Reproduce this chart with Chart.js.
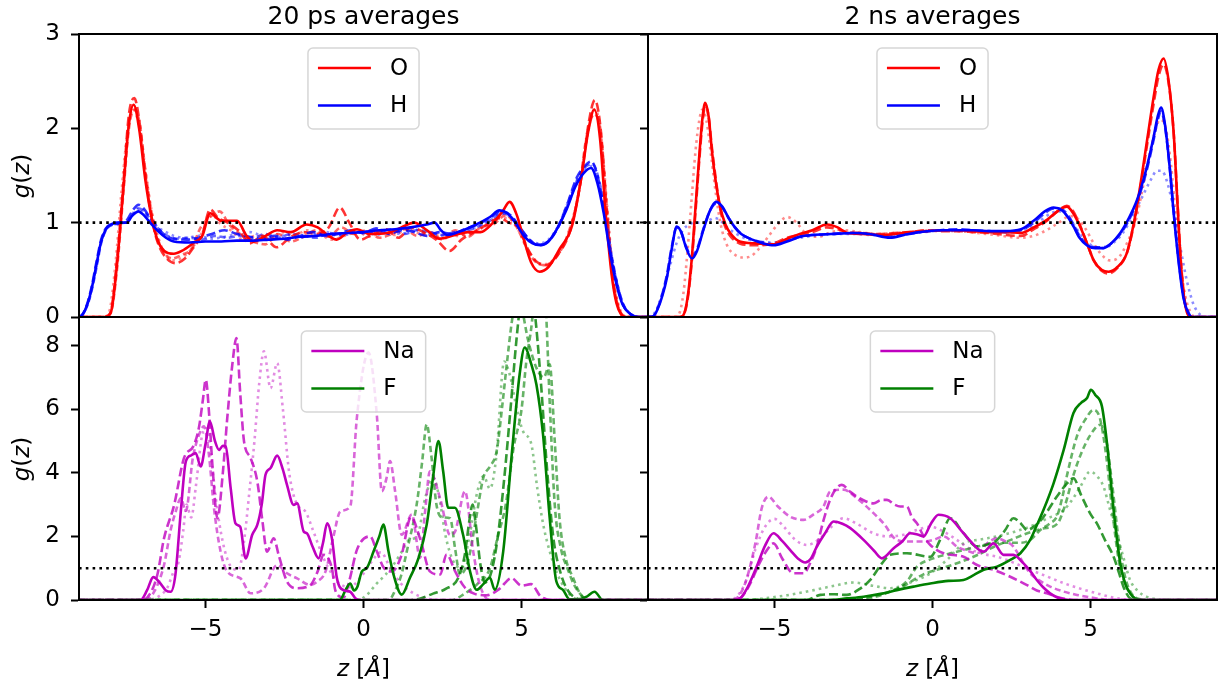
<!DOCTYPE html>
<html>
<head>
<meta charset="utf-8">
<script src="https://cdn.jsdelivr.net/npm/chart.js@4.4.0/dist/chart.umd.min.js"></script>
<style>
  body { margin: 0; background: #fff; }
  #fig { position: relative; width: 1225px; height: 684px; overflow: hidden; background: #fff; }
  #fig canvas { position: absolute; left: 0; top: 0; }
  .txt { position: absolute; font-family: "DejaVu Sans", sans-serif; color: #000; white-space: nowrap; }
  .title { font-size: 25px; line-height: 25px; top: 3px; transform: translateX(-50%); }
  .xlab { font-size: 23px; line-height: 23px; top: 657px; transform: translateX(-50%); }
  .ylab { font-size: 23px; line-height: 23px; transform: translate(-50%, -50%) rotate(-90deg); }
</style>
</head>
<body>
<div id="fig">
  <canvas id="tl" width="1225" height="684"></canvas>
  <canvas id="tr" width="1225" height="684"></canvas>
  <canvas id="bl" width="1225" height="684"></canvas>
  <canvas id="br" width="1225" height="684"></canvas>
  <div class="txt title" style="left:363.5px">20 ps averages</div>
  <div class="txt title" style="left:932.5px">2 ns averages</div>
  <div class="txt ylab" style="left:21px;top:176px"><i>g</i>(<i>z</i>)</div>
  <div class="txt ylab" style="left:21px;top:459px"><i>g</i>(<i>z</i>)</div>
  <div class="txt xlab" style="left:363.5px"><i>z</i> [<i>Å</i>]</div>
  <div class="txt xlab" style="left:932.5px"><i>z</i> [<i>Å</i>]</div>
</div>
<script>
// --- DATA --- //
const xTicks = [-5, 0, 5];
const yTicksTop = [0, 1, 2, 3];
const yTicksBottom = [0, 2, 4, 6, 8];
const refZ = [-9, 9];
const refG = [1, 1];

// 20 ps, water O  ([z, g(z)] pairs)
const oShort1 = [[-9,0],[-8.2,0],[-8.0,0.04],[-7.8,0.55],[-7.6,1.35],[-7.42,2.05],[-7.27,2.25],[-7.1,2.0],[-6.9,1.45],[-6.7,1.05],[-6.5,0.8],[-6.3,0.7],[-6.0,0.67],[-5.75,0.7],[-5.4,0.78],[-5.1,0.86],[-4.85,1.1],[-4.5,1.02],[-4.0,1.02],[-3.7,0.86],[-3.47,0.8],[-3.1,0.86],[-2.73,0.92],[-2.3,0.9],[-1.8,0.98],[-1.45,0.95],[-1.1,0.86],[-0.85,0.82],[-0.5,0.9],[-0.2,0.93],[0.2,0.88],[0.75,0.89],[1.2,0.95],[1.6,1.0],[2.0,0.92],[2.4,0.83],[2.9,0.87],[3.3,0.9],[3.7,0.9],[4.1,1.0],[4.4,1.12],[4.62,1.22],[4.85,1.08],[5.05,0.85],[5.3,0.58],[5.57,0.48],[5.85,0.53],[6.2,0.72],[6.6,0.97],[6.9,1.5],[7.1,1.95],[7.3,2.2],[7.48,1.9],[7.66,1.1],[7.85,0.45],[8.0,0.15],[8.15,0.03],[8.3,0],[9,0]];
const oShort2 = [[-9,0],[-8.2,0],[-8.0,0.05],[-7.8,0.6],[-7.6,1.4],[-7.42,2.15],[-7.25,2.32],[-7.08,2.05],[-6.9,1.5],[-6.7,1.05],[-6.5,0.78],[-6.25,0.63],[-5.95,0.57],[-5.65,0.62],[-5.35,0.75],[-5.1,0.88],[-4.85,1.14],[-4.6,1.05],[-4.3,1.0],[-3.9,0.9],[-3.6,0.78],[-3.2,0.86],[-2.75,0.74],[-2.3,0.85],[-1.9,0.9],[-1.5,0.88],[-1.1,0.95],[-0.75,1.16],[-0.45,1.0],[-0.1,0.82],[0.3,0.88],[0.7,0.93],[1.1,0.84],[1.5,0.95],[1.9,0.9],[2.3,0.82],[2.72,0.7],[3.1,0.82],[3.5,0.9],[3.9,0.98],[4.3,1.05],[4.6,1.0],[4.9,0.95],[5.2,0.72],[5.5,0.58],[5.8,0.55],[6.15,0.66],[6.55,0.93],[6.9,1.5],[7.12,2.05],[7.32,2.3],[7.5,2.0],[7.68,1.2],[7.85,0.5],[8.0,0.18],[8.15,0.03],[8.3,0],[9,0]];
const oShort3 = [[-9,0],[-8.2,0],[-8.0,0.04],[-7.8,0.5],[-7.6,1.3],[-7.42,2.0],[-7.25,2.2],[-7.08,2.05],[-6.9,1.55],[-6.7,1.1],[-6.5,0.82],[-6.3,0.68],[-6.05,0.62],[-5.75,0.66],[-5.45,0.72],[-5.15,0.95],[-4.85,1.06],[-4.55,1.12],[-4.25,0.98],[-3.9,0.88],[-3.5,0.8],[-3.1,0.77],[-2.7,0.88],[-2.3,0.8],[-1.9,0.85],[-1.5,0.92],[-1.1,0.85],[-0.7,0.95],[-0.3,0.88],[0.1,0.92],[0.5,0.84],[0.9,0.88],[1.3,0.93],[1.7,0.86],[2.1,0.9],[2.5,0.82],[2.9,0.92],[3.3,0.85],[3.7,0.95],[4.1,0.98],[4.5,1.08],[4.8,0.98],[5.1,0.78],[5.4,0.6],[5.7,0.55],[6.0,0.6],[6.4,0.82],[6.8,1.3],[7.05,1.9],[7.3,2.15],[7.5,1.95],[7.7,1.15],[7.9,0.4],[8.05,0.12],[8.2,0.02],[8.35,0],[9,0]];
const oShort4 = [[-9,0],[-8.25,0],[-8.05,0.05],[-7.85,0.55],[-7.65,1.35],[-7.45,2.0],[-7.28,2.2],[-7.1,2.02],[-6.9,1.55],[-6.7,1.12],[-6.5,0.85],[-6.25,0.65],[-6.0,0.6],[-5.7,0.64],[-5.4,0.74],[-5.1,0.9],[-4.8,1.08],[-4.5,0.98],[-4.2,0.92],[-3.8,0.82],[-3.4,0.86],[-3.0,0.82],[-2.6,0.9],[-2.2,0.86],[-1.8,0.92],[-1.4,0.88],[-1.0,0.82],[-0.6,0.86],[-0.2,0.9],[0.2,0.85],[0.6,0.9],[1.0,0.87],[1.4,0.94],[1.8,0.88],[2.2,0.86],[2.6,0.88],[3.0,0.86],[3.4,0.9],[3.8,0.95],[4.2,1.04],[4.55,1.05],[4.9,0.92],[5.2,0.7],[5.5,0.58],[5.8,0.56],[6.1,0.65],[6.5,0.9],[6.85,1.4],[7.1,1.95],[7.32,2.2],[7.5,1.98],[7.7,1.2],[7.9,0.45],[8.05,0.15],[8.2,0.03],[8.35,0],[9,0]];

// 20 ps, water H
const hShort1 = [[-9,0],[-8.9,0.02],[-8.75,0.12],[-8.6,0.3],[-8.45,0.55],[-8.3,0.8],[-8.15,0.93],[-8.0,0.98],[-7.75,1.0],[-7.5,1.0],[-7.3,1.08],[-7.12,1.12],[-6.95,1.08],[-6.75,1.0],[-6.5,0.91],[-6.25,0.84],[-6.0,0.8],[-5.5,0.79],[-5.0,0.8],[-4.5,0.8],[-4.0,0.81],[-3.5,0.81],[-3.0,0.82],[-2.5,0.83],[-2.0,0.85],[-1.5,0.86],[-1.0,0.88],[-0.5,0.89],[0,0.9],[0.5,0.92],[1.0,0.93],[1.5,0.95],[2.0,0.98],[2.25,1.0],[2.45,0.92],[2.65,0.87],[3.0,0.9],[3.5,0.97],[4.0,1.06],[4.3,1.13],[4.55,1.1],[4.8,1.0],[5.1,0.85],[5.35,0.78],[5.6,0.76],[5.85,0.8],[6.1,0.92],[6.4,1.12],[6.7,1.38],[6.95,1.52],[7.2,1.58],[7.4,1.42],[7.6,1.1],[7.8,0.68],[8.0,0.35],[8.2,0.13],[8.45,0.03],[8.7,0],[9,0]];
const hShort2 = [[-9,0],[-8.9,0.02],[-8.75,0.13],[-8.6,0.32],[-8.45,0.58],[-8.3,0.82],[-8.15,0.94],[-8.0,0.98],[-7.75,0.99],[-7.5,1.02],[-7.3,1.13],[-7.12,1.19],[-6.95,1.15],[-6.75,1.05],[-6.5,0.94],[-6.25,0.86],[-6.0,0.83],[-5.6,0.82],[-5.2,0.84],[-4.8,0.88],[-4.4,0.92],[-4.0,0.88],[-3.6,0.85],[-3.2,0.83],[-2.8,0.86],[-2.4,0.82],[-2.0,0.86],[-1.6,0.9],[-1.2,0.86],[-0.8,0.88],[-0.4,0.92],[0,0.89],[0.4,0.94],[0.8,0.88],[1.2,0.92],[1.6,0.9],[2.0,0.86],[2.4,0.9],[2.8,0.88],[3.2,0.93],[3.6,0.98],[4.0,1.05],[4.35,1.12],[4.65,1.08],[4.95,0.95],[5.25,0.82],[5.55,0.76],[5.85,0.8],[6.15,0.95],[6.45,1.2],[6.75,1.48],[7.0,1.6],[7.2,1.65],[7.4,1.5],[7.6,1.15],[7.8,0.72],[8.0,0.38],[8.2,0.14],[8.45,0.03],[8.7,0],[9,0]];
const hShort3 = [[-9,0],[-8.9,0.02],[-8.75,0.11],[-8.6,0.28],[-8.45,0.52],[-8.3,0.78],[-8.15,0.92],[-8.0,0.97],[-7.75,1.0],[-7.5,1.0],[-7.3,1.08],[-7.1,1.15],[-6.9,1.1],[-6.7,1.02],[-6.45,0.92],[-6.2,0.86],[-5.9,0.83],[-5.5,0.84],[-5.1,0.82],[-4.7,0.86],[-4.3,0.84],[-3.9,0.86],[-3.5,0.84],[-3.1,0.88],[-2.7,0.84],[-2.3,0.88],[-1.9,0.86],[-1.5,0.84],[-1.1,0.89],[-0.7,0.87],[-0.3,0.91],[0.1,0.88],[0.5,0.9],[0.9,0.93],[1.3,0.88],[1.7,0.92],[2.1,0.9],[2.5,0.87],[2.9,0.9],[3.3,0.92],[3.7,0.97],[4.1,1.04],[4.4,1.1],[4.7,1.05],[5.0,0.92],[5.3,0.8],[5.6,0.77],[5.9,0.82],[6.2,0.98],[6.5,1.22],[6.8,1.48],[7.05,1.6],[7.25,1.62],[7.45,1.45],[7.65,1.1],[7.85,0.65],[8.05,0.32],[8.25,0.11],[8.5,0.02],[8.75,0],[9,0]];
const hShort4 = [[-9,0],[-8.9,0.02],[-8.75,0.12],[-8.6,0.3],[-8.45,0.55],[-8.3,0.8],[-8.15,0.93],[-8.0,0.97],[-7.75,0.99],[-7.5,1.01],[-7.3,1.1],[-7.12,1.16],[-6.95,1.12],[-6.75,1.04],[-6.5,0.95],[-6.25,0.9],[-6.0,0.86],[-5.6,0.84],[-5.2,0.86],[-4.8,0.83],[-4.4,0.85],[-4.0,0.88],[-3.6,0.9],[-3.2,0.86],[-2.8,0.84],[-2.4,0.87],[-2.0,0.84],[-1.6,0.87],[-1.2,0.9],[-0.8,0.86],[-0.4,0.88],[0,0.91],[0.4,0.87],[0.8,0.9],[1.2,0.88],[1.6,0.93],[2.0,0.88],[2.4,0.86],[2.8,0.89],[3.2,0.9],[3.6,0.96],[4.0,1.02],[4.35,1.1],[4.65,1.06],[4.95,0.94],[5.25,0.82],[5.55,0.78],[5.85,0.82],[6.15,0.96],[6.45,1.2],[6.75,1.45],[7.0,1.56],[7.22,1.6],[7.42,1.46],[7.62,1.12],[7.82,0.7],[8.02,0.36],[8.22,0.13],[8.47,0.03],[8.72,0],[9,0]];

// 2 ns, water O
const oLong1 = [[-9,0],[-8.0,0],[-7.88,0.02],[-7.75,0.2],[-7.62,0.6],[-7.5,1.15],[-7.38,1.7],[-7.28,2.1],[-7.19,2.27],[-7.08,2.12],[-6.98,1.77],[-6.85,1.42],[-6.72,1.17],[-6.55,0.98],[-6.4,0.89],[-6.1,0.8],[-5.6,0.78],[-5.03,0.77],[-4.6,0.83],[-4.2,0.88],[-3.8,0.92],[-3.34,0.98],[-3.0,0.95],[-2.7,0.89],[-2.2,0.88],[-1.7,0.87],[-1.2,0.88],[-0.7,0.9],[-0.2,0.91],[0.3,0.92],[0.8,0.92],[1.3,0.91],[1.8,0.9],[2.3,0.9],[2.8,0.89],[3.2,0.95],[3.62,1.03],[3.95,1.12],[4.25,1.17],[4.45,1.1],[4.67,0.96],[4.9,0.77],[5.1,0.6],[5.35,0.5],[5.57,0.48],[5.85,0.53],[6.15,0.68],[6.4,1.05],[6.6,1.45],[6.8,1.9],[6.99,2.32],[7.15,2.62],[7.31,2.74],[7.47,2.5],[7.63,1.95],[7.75,1.2],[7.86,0.55],[7.96,0.2],[8.06,0.04],[8.2,0],[9,0]];
const oLong2 = [[-9,0],[-8.0,0],[-7.88,0.02],[-7.75,0.18],[-7.62,0.57],[-7.5,1.1],[-7.38,1.65],[-7.28,2.05],[-7.19,2.24],[-7.08,2.12],[-6.98,1.8],[-6.85,1.45],[-6.72,1.15],[-6.55,0.95],[-6.4,0.86],[-6.1,0.78],[-5.6,0.76],[-5.03,0.78],[-4.6,0.84],[-4.2,0.87],[-3.8,0.9],[-3.34,0.95],[-3.0,0.93],[-2.7,0.9],[-2.2,0.89],[-1.7,0.88],[-1.2,0.89],[-0.7,0.9],[-0.2,0.92],[0.3,0.91],[0.8,0.91],[1.3,0.9],[1.8,0.89],[2.3,0.87],[2.8,0.86],[3.2,0.93],[3.62,1.02],[3.95,1.12],[4.25,1.18],[4.45,1.12],[4.67,0.97],[4.9,0.77],[5.1,0.6],[5.35,0.49],[5.57,0.46],[5.85,0.52],[6.15,0.68],[6.4,1.03],[6.6,1.42],[6.8,1.85],[6.99,2.25],[7.15,2.55],[7.31,2.68],[7.47,2.48],[7.63,1.95],[7.75,1.22],[7.86,0.58],[7.96,0.22],[8.06,0.05],[8.2,0],[9,0]];
const oLong3 = [[-9,0],[-8.15,0],[-8.02,0.03],[-7.88,0.25],[-7.75,0.7],[-7.62,1.25],[-7.5,1.75],[-7.38,2.08],[-7.28,2.2],[-7.15,2.08],[-7.0,1.7],[-6.85,1.3],[-6.7,0.98],[-6.5,0.76],[-6.25,0.66],[-6.0,0.63],[-5.77,0.64],[-5.5,0.72],[-5.2,0.85],[-4.9,0.98],[-4.6,1.06],[-4.3,1.0],[-4.0,0.88],[-3.6,0.85],[-3.2,0.9],[-2.8,0.92],[-2.3,0.9],[-1.8,0.88],[-1.3,0.89],[-0.8,0.9],[-0.3,0.91],[0.2,0.92],[0.7,0.91],[1.2,0.9],[1.7,0.88],[2.2,0.86],[2.7,0.84],[3.2,0.86],[3.6,0.92],[4.0,1.0],[4.35,1.07],[4.6,1.04],[4.85,0.93],[5.1,0.78],[5.35,0.66],[5.6,0.6],[5.85,0.62],[6.15,0.78],[6.45,1.05],[6.7,1.45],[6.95,1.85],[7.2,2.09],[7.38,2.0],[7.55,1.6],[7.7,1.05],[7.85,0.55],[8.0,0.22],[8.15,0.06],[8.3,0],[9,0]];

// 2 ns, water H
const hLong1 = [[-9,0],[-8.83,0.01],[-8.7,0.08],[-8.55,0.22],[-8.4,0.42],[-8.25,0.72],[-8.09,0.96],[-7.95,0.9],[-7.8,0.74],[-7.61,0.62],[-7.45,0.7],[-7.25,0.92],[-7.05,1.12],[-6.85,1.22],[-6.65,1.17],[-6.45,1.05],[-6.25,0.95],[-6.05,0.88],[-5.7,0.82],[-5.35,0.78],[-5.03,0.76],[-4.6,0.8],[-4.2,0.85],[-3.8,0.87],[-3.2,0.88],[-2.5,0.89],[-2.0,0.88],[-1.34,0.84],[-0.9,0.87],[-0.4,0.9],[0.24,0.92],[0.8,0.92],[1.3,0.92],[1.8,0.91],[2.3,0.91],[2.8,0.93],[3.2,1.02],[3.55,1.12],[3.83,1.16],[4.1,1.13],[4.3,1.05],[4.46,0.96],[4.65,0.84],[4.89,0.76],[5.15,0.73],[5.41,0.73],[5.65,0.78],[5.94,0.89],[6.2,1.04],[6.47,1.24],[6.75,1.55],[6.99,1.9],[7.12,2.12],[7.23,2.22],[7.35,2.05],[7.5,1.6],[7.63,1.1],[7.78,0.6],[7.94,0.2],[8.08,0.05],[8.2,0],[9,0]];
const hLong2 = [[-9,0],[-8.83,0.01],[-8.7,0.09],[-8.55,0.24],[-8.4,0.45],[-8.25,0.74],[-8.09,0.95],[-7.95,0.9],[-7.8,0.75],[-7.61,0.64],[-7.45,0.72],[-7.25,0.93],[-7.05,1.12],[-6.85,1.2],[-6.65,1.16],[-6.45,1.05],[-6.25,0.95],[-6.05,0.88],[-5.7,0.82],[-5.35,0.79],[-5.03,0.77],[-4.6,0.81],[-4.2,0.85],[-3.8,0.87],[-3.2,0.88],[-2.5,0.89],[-2.0,0.88],[-1.34,0.86],[-0.9,0.88],[-0.4,0.9],[0.24,0.92],[0.8,0.93],[1.3,0.92],[1.8,0.91],[2.3,0.9],[2.8,0.92],[3.2,1.0],[3.55,1.1],[3.83,1.15],[4.1,1.14],[4.3,1.07],[4.46,0.98],[4.65,0.86],[4.89,0.77],[5.15,0.74],[5.41,0.74],[5.65,0.78],[5.94,0.88],[6.2,1.02],[6.47,1.22],[6.75,1.52],[6.99,1.87],[7.12,2.08],[7.23,2.18],[7.35,2.03],[7.5,1.6],[7.63,1.12],[7.78,0.62],[7.94,0.22],[8.08,0.06],[8.2,0],[9,0]];
const hLong3 = [[-9,0],[-8.85,0.02],[-8.7,0.1],[-8.5,0.3],[-8.3,0.55],[-8.1,0.78],[-7.9,0.92],[-7.7,0.98],[-7.5,1.0],[-7.3,1.0],[-7.1,1.02],[-6.9,1.05],[-6.7,1.02],[-6.5,0.95],[-6.2,0.88],[-5.9,0.83],[-5.5,0.8],[-5.0,0.79],[-4.5,0.82],[-4.0,0.85],[-3.5,0.87],[-3.0,0.88],[-2.5,0.88],[-2.0,0.87],[-1.5,0.86],[-1.0,0.87],[-0.5,0.89],[0,0.91],[0.5,0.92],[1.0,0.92],[1.5,0.91],[2.0,0.9],[2.5,0.9],[3.0,0.94],[3.4,1.02],[3.75,1.1],[4.05,1.12],[4.3,1.06],[4.55,0.94],[4.8,0.82],[5.1,0.75],[5.4,0.73],[5.7,0.78],[6.0,0.88],[6.3,1.05],[6.6,1.25],[6.9,1.45],[7.1,1.55],[7.25,1.55],[7.45,1.4],[7.65,1.1],[7.85,0.72],[8.05,0.38],[8.25,0.14],[8.45,0.03],[8.6,0],[9,0]];

// 20 ps, Na+
const naShort1 = [[-9,0],[-7.05,0],[-6.85,0.3],[-6.65,0.72],[-6.45,0.55],[-6.25,0.3],[-6.1,0.26],[-5.95,0.8],[-5.78,2.78],[-5.62,4.36],[-5.45,4.55],[-5.31,4.62],[-5.15,4.2],[-5.0,4.9],[-4.86,5.62],[-4.7,5.0],[-4.57,4.72],[-4.45,4.85],[-4.36,4.83],[-4.2,3.5],[-4.05,2.41],[-3.9,2.3],[-3.73,1.31],[-3.52,2.05],[-3.36,2.36],[-3.22,3.0],[-3.1,3.94],[-2.94,4.15],[-2.73,4.54],[-2.55,4.1],[-2.42,3.62],[-2.21,2.99],[-2.1,3.04],[-1.89,2.15],[-1.79,2.1],[-1.62,1.7],[-1.42,1.31],[-1.28,1.8],[-1.15,2.41],[-1.0,1.94],[-0.84,0.68],[-0.63,0.31],[-0.42,0.26],[-0.25,0.05],[-0.1,0],[9,0]];
const naShort2 = [[-9,0],[-7.0,0],[-6.75,0.2],[-6.52,0.8],[-6.31,1.94],[-5.99,2.99],[-5.68,4.46],[-5.36,4.88],[-5.2,5.46],[-5.08,6.3],[-4.99,6.93],[-4.88,5.8],[-4.78,4.25],[-4.62,2.57],[-4.45,4.0],[-4.31,5.72],[-4.15,7.4],[-4.02,8.24],[-3.9,6.5],[-3.78,4.99],[-3.57,4.46],[-3.36,3.73],[-3.2,2.5],[-3.05,1.52],[-2.84,1.94],[-2.68,1.4],[-2.42,0.58],[-2.1,0.37],[-1.68,0.47],[-1.45,0.9],[-1.26,1.42],[-1.0,1.0],[-0.89,0.3],[-0.63,0.08],[-0.45,0.6],[-0.2,1.6],[0.21,2.0],[0.42,1.53],[0.65,1.0],[0.9,0.9],[1.2,1.4],[1.5,2.6],[1.8,1.9],[2.1,0.9],[2.42,0.8],[2.63,1.43],[2.9,0.9],[3.2,0.4],[3.5,0.2],[3.9,0.15],[4.3,0.35],[4.68,0.69],[5.0,0.45],[5.3,0.5],[5.6,0.12],[5.9,0],[9,0]];
const naShort3 = [[-9,0],[-6.9,0],[-6.6,0.3],[-6.31,1.1],[-6.1,2.2],[-5.94,2.78],[-5.78,3.2],[-5.62,2.8],[-5.4,4.46],[-5.2,5.2],[-5.05,5.46],[-4.89,4.57],[-4.73,2.89],[-4.52,1.52],[-4.31,0.89],[-3.89,0.68],[-3.57,0.21],[-3.15,0.37],[-2.73,1.1],[-2.42,0.84],[-2.1,0.68],[-1.68,0.47],[-1.47,0.58],[-1.2,0.9],[-0.95,2.0],[-0.73,2.79],[-0.42,2.94],[-0.21,5.73],[0.16,7.78],[0.42,5.84],[0.58,3.42],[0.73,3.84],[0.84,4.37],[1.0,3.42],[1.21,2.05],[1.53,2.69],[1.79,1.32],[1.95,2.8],[2.1,4.05],[2.42,3.21],[2.74,2.05],[2.9,2.16],[3.21,3.42],[3.47,1.53],[3.68,0.48],[4.0,0],[9,0]];
const naShort4 = [[-9,0],[-6.9,0],[-6.5,0.1],[-6.2,0.4],[-5.99,0.94],[-5.85,1.2],[-5.7,2.2],[-5.6,3.0],[-5.45,2.6],[-5.3,3.6],[-5.1,5.2],[-4.95,5.4],[-4.8,4.3],[-4.62,2.8],[-4.4,1.6],[-4.15,1.0],[-3.95,0.95],[-3.78,1.84],[-3.6,3.5],[-3.45,5.0],[-3.3,6.8],[-3.15,7.82],[-2.94,6.66],[-2.73,7.45],[-2.55,6.0],[-2.35,4.0],[-2.1,3.0],[-1.85,2.8],[-1.6,2.2],[-1.3,1.4],[-1.05,0.9],[-0.8,0.55],[-0.45,0.4],[-0.1,0.7],[0.25,1.2],[0.55,1.5],[0.85,1.0],[1.2,0.5],[1.6,0.2],[2.0,0.05],[2.4,0],[9,0]];

// 20 ps, F-
const fShort1 = [[-9,0],[-0.75,0],[-0.55,0.35],[-0.42,0.52],[-0.3,0.3],[-0.2,0.4],[-0.05,0.9],[0.1,1.0],[0.32,1.53],[0.5,2.0],[0.63,2.37],[0.79,1.53],[0.95,0.8],[1.21,0.17],[1.47,0.7],[1.74,1.32],[2.0,2.37],[2.21,3.94],[2.37,5.0],[2.52,4.05],[2.68,2.9],[2.89,2.9],[3.15,2.05],[3.37,0.9],[3.58,0.32],[3.79,0.5],[4.0,0.7],[4.15,0.32],[4.42,1.53],[4.68,4.47],[4.94,7.1],[5.1,7.94],[5.31,7.41],[5.47,6.78],[5.68,5.2],[5.89,2.58],[6.1,0.59],[6.31,0.32],[6.52,0.02],[6.8,0.02],[7.05,0.1],[7.31,0.26],[7.57,0],[9,0]];
const fShort2 = [[-9,0],[1.5,0],[1.8,0.05],[2.2,0.2],[2.6,0.35],[3.0,0.7],[3.2,1.4],[3.35,2.5],[3.45,3.0],[3.55,2.4],[3.7,1.1],[3.85,0.55],[4.05,0.9],[4.25,2.0],[4.45,3.8],[4.65,6.0],[4.85,8.3],[5.0,9.6],[5.2,10.2],[5.4,9.2],[5.6,7.0],[5.8,4.2],[6.0,2.0],[6.25,0.8],[6.5,0.25],[6.8,0.03],[7.0,0],[9,0]];
const fShort3 = [[-9,0],[0.8,0],[1.0,0.3],[1.2,0.8],[1.37,1.53],[1.68,2.99],[1.85,4.3],[2.0,5.52],[2.15,4.5],[2.31,2.99],[2.5,2.6],[2.74,2.57],[2.9,1.6],[3.05,0.8],[3.3,1.2],[3.55,2.5],[3.79,3.84],[4.0,4.2],[4.21,4.67],[4.4,6.2],[4.52,7.3],[4.7,8.8],[4.84,9.5],[5.0,9.2],[5.2,8.2],[5.47,7.3],[5.7,7.0],[5.89,7.41],[6.05,5.0],[6.2,2.58],[6.4,1.3],[6.63,0.7],[6.85,0.2],[7.1,0],[9,0]];
const fShort4 = [[-9,0],[2.8,0],[3.2,0.2],[3.6,0.5],[4.0,1.0],[4.25,2.0],[4.5,3.0],[4.75,4.8],[5.0,6.0],[5.15,7.5],[5.3,8.5],[5.45,9.8],[5.6,10.2],[5.75,9.5],[5.9,6.0],[6.05,3.0],[6.25,1.6],[6.45,1.0],[6.65,0.5],[6.85,0.2],[7.1,0],[9,0]];
const fShort5 = [[-9,0],[-0.2,0],[0.1,0.15],[0.4,0.5],[0.7,0.8],[0.95,1.11],[1.2,1.5],[1.45,1.9],[1.7,2.0],[1.95,3.2],[2.21,3.84],[2.4,3.2],[2.6,2.0],[2.85,1.2],[3.1,1.0],[3.35,2.0],[3.6,3.4],[3.8,3.9],[4.0,3.5],[4.2,4.5],[4.45,7.5],[4.65,7.0],[4.85,6.0],[5.05,5.3],[5.31,4.9],[5.5,3.5],[5.7,2.3],[5.9,1.5],[6.1,0.9],[6.35,0.4],[6.6,0.1],[6.9,0],[9,0]];

// 2 ns, Na+
const naLong1 = [[-9,0],[-6.3,0],[-6.09,0.05],[-5.85,0.4],[-5.56,1.05],[-5.3,1.7],[-5.03,2.1],[-4.75,1.85],[-4.5,1.57],[-4.25,1.3],[-4.03,1.18],[-3.85,1.3],[-3.66,1.68],[-3.4,2.1],[-3.13,2.47],[-2.85,2.4],[-2.6,2.26],[-2.18,1.89],[-1.85,1.55],[-1.6,1.31],[-1.23,1.63],[-0.95,1.85],[-0.71,2.1],[-0.45,2.05],[-0.28,2.0],[-0.05,2.4],[0.19,2.68],[0.56,2.57],[0.98,2.1],[1.2,1.85],[1.41,1.63],[1.62,1.52],[1.93,1.78],[2.25,1.42],[2.56,1.42],[2.88,1.15],[3.1,0.9],[3.3,0.63],[3.5,0.4],[3.72,0.21],[3.95,0.08],[4.15,0.02],[4.4,0],[9,0]];
const naLong2 = [[-9,0],[-6.3,0],[-6.05,0.08],[-5.8,0.45],[-5.5,1.1],[-5.25,1.55],[-5.03,1.78],[-4.75,1.3],[-4.4,0.84],[-4.08,0.84],[-3.85,1.2],[-3.66,1.68],[-3.45,2.5],[-3.24,3.15],[-3.05,3.5],[-2.87,3.62],[-2.6,3.4],[-2.39,3.25],[-2.1,3.1],[-1.87,3.04],[-1.6,3.15],[-1.44,3.15],[-1.2,3.0],[-1.02,2.94],[-0.81,2.94],[-0.65,2.6],[-0.49,2.41],[-0.28,2.0],[-0.07,1.73],[0.35,1.47],[0.98,1.36],[1.41,1.1],[1.93,0.95],[2.46,0.73],[2.99,0.47],[3.3,0.3],[3.62,0.21],[4.0,0.08],[4.3,0.02],[4.6,0],[9,0]];
const naLong3 = [[-9,0],[-6.4,0],[-6.15,0.1],[-5.9,0.6],[-5.6,1.8],[-5.4,2.9],[-5.19,3.25],[-4.9,2.95],[-4.5,2.62],[-4.08,2.52],[-3.75,2.7],[-3.45,2.94],[-3.24,3.41],[-2.82,3.47],[-2.39,3.2],[-1.97,2.83],[-1.55,2.41],[-1.13,1.89],[-0.71,1.84],[-0.28,1.84],[0.05,1.9],[0.35,2.0],[0.77,1.68],[1.1,1.55],[1.41,1.47],[1.75,1.8],[2.04,1.94],[2.3,1.85],[2.56,1.68],[2.85,1.2],[3.09,0.84],[3.4,0.6],[3.72,0.42],[4.1,0.28],[4.57,0.16],[5.2,0.05],[5.6,0],[9,0]];
const naLong4 = [[-9,0],[-6.5,0],[-6.2,0.1],[-5.9,0.6],[-5.6,1.6],[-5.3,2.3],[-5.0,2.55],[-4.7,2.3],[-4.35,1.9],[-3.97,1.73],[-3.6,1.9],[-3.2,2.3],[-2.82,2.57],[-2.4,2.4],[-1.87,2.1],[-1.4,2.0],[-0.92,2.05],[-0.5,2.2],[-0.07,2.3],[0.35,2.15],[0.77,1.89],[1.2,1.6],[1.6,1.45],[2.04,1.36],[2.5,1.2],[3.09,0.95],[3.6,0.75],[4.15,0.53],[4.7,0.35],[5.2,0.21],[5.7,0.08],[6.25,0],[9,0]];

// 2 ns, F-
const fLong1 = [[-9,0],[-3.3,0],[-2.7,0.05],[-2.18,0.1],[-1.6,0.2],[-1.13,0.31],[-0.6,0.42],[-0.07,0.52],[0.5,0.6],[0.98,0.63],[1.3,0.78],[1.62,0.95],[2.04,1.05],[2.46,1.26],[2.78,1.47],[3.09,1.89],[3.3,2.35],[3.51,2.83],[3.83,3.67],[4.15,4.72],[4.46,5.88],[4.7,6.2],[4.89,6.35],[5.01,6.61],[5.15,6.45],[5.36,6.09],[5.52,4.93],[5.73,2.83],[5.94,1.15],[6.1,0.5],[6.26,0.2],[6.47,0.02],[6.7,0],[9,0]];
const fLong2 = [[-9,0],[-4.0,0],[-3.55,0.16],[-3.1,0.18],[-2.71,0.16],[-2.3,0.35],[-1.97,0.63],[-1.6,1.15],[-1.34,1.42],[-0.81,1.47],[-0.07,1.36],[0.24,1.89],[0.56,2.57],[0.98,2.1],[1.41,1.68],[1.75,1.75],[2.04,1.89],[2.3,2.2],[2.56,2.57],[2.8,2.4],[2.99,2.2],[3.2,2.3],[3.5,2.6],[3.93,3.25],[4.2,3.6],[4.46,3.83],[4.7,3.3],[5.0,2.7],[5.2,2.41],[5.45,1.9],[5.73,1.36],[5.9,0.85],[6.04,0.42],[6.25,0.05],[6.45,0],[9,0]];
const fLong3 = [[-9,0],[-2.5,0],[-1.5,0.2],[-0.8,0.6],[-0.49,1.05],[0,1.3],[0.5,1.45],[0.98,1.57],[1.5,1.7],[2.0,1.8],[2.5,1.8],[2.78,1.8],[3.1,1.9],[3.41,2.2],[3.7,2.4],[3.94,2.64],[4.1,3.2],[4.25,3.9],[4.57,5.15],[4.85,5.7],[5.09,5.98],[5.3,5.7],[5.5,4.5],[5.7,2.7],[5.9,1.2],[6.1,0.5],[6.3,0.15],[6.5,0.02],[6.7,0],[9,0]];
const fLong4 = [[-9,0],[-3.0,0],[-2.0,0.1],[-1.0,0.4],[-0.3,0.8],[0.3,1.0],[0.9,1.2],[1.5,1.45],[2.0,1.7],[2.5,1.9],[3.0,2.1],[3.5,2.25],[3.95,2.4],[4.2,3.0],[4.45,3.9],[4.7,4.6],[5.0,5.2],[5.31,5.51],[5.5,5.0],[5.7,3.5],[5.9,1.8],[6.1,0.7],[6.3,0.2],[6.55,0.03],[6.8,0],[9,0]];
const fLong5 = [[-9,0],[-5.8,0],[-5.35,0.05],[-4.6,0.15],[-3.76,0.31],[-3.1,0.45],[-2.5,0.55],[-1.9,0.45],[-1.34,0.37],[-0.7,0.55],[-0.07,0.84],[0.5,1.3],[0.98,1.78],[1.5,1.9],[2.04,2.0],[2.6,2.15],[3.09,2.31],[3.6,2.55],[4.15,2.83],[4.45,3.2],[4.68,3.57],[4.99,4.04],[5.2,3.9],[5.41,3.57],[5.6,2.9],[5.83,2.1],[6.05,1.3],[6.25,0.63],[6.5,0.28],[6.78,0.1],[7.05,0.03],[7.3,0],[9,0]];

// --- STYLE --- //
const tickFont = { family: 'DejaVu Sans', size: 23 };
const lineStyles = {
  solid: { dash: [], alpha: 1 },
  long: { dash: [9, 4], alpha: 0.8 },
  short: { dash: [6, 3.5], alpha: 0.6 },
  dot: { dash: [2.6, 4], alpha: 0.45 }
};
const colors = { O: [255, 0, 0], H: [0, 0, 255], Na: [191, 0, 191], F: [0, 128, 0] };

function lineSet(points, species, style) {
  const c = colors[species], s = lineStyles[style];
  return {
    data: points.map(p => ({ x: p[0], y: p[1] })),
    borderColor: `rgba(${c.join(',')},${s.alpha})`,
    borderWidth: 2.6,
    borderDash: s.dash,
    pointRadius: 0,
    fill: false,
    cubicInterpolationMode: 'monotone'
  };
}

function refLine() {
  return {
    data: refZ.map((z, i) => ({ x: z, y: refG[i] })),
    borderColor: '#000', borderWidth: 2.6, borderDash: [2.6, 4.2],
    pointRadius: 0, fill: false
  };
}

const minus = v => (v < 0 ? '\u2212' + Math.abs(v) : String(v));

// kader di sekeliling area plot
const framePlugin = {
  id: 'frame',
  afterDraw(chart) {
    const { ctx, chartArea: a } = chart;
    ctx.save();
    ctx.strokeStyle = '#000';
    ctx.lineWidth = 2;
    ctx.strokeRect(a.left, a.top, a.right - a.left, a.bottom - a.top);
    ctx.restore();
  }
};

// legend kotak di tengah atas, gaya matplotlib
const legendPlugin = {
  id: 'boxLegend',
  afterDatasetsDraw(chart, args, opts) {
    const { ctx, chartArea: a } = chart;
    const items = opts.items || [];
    ctx.save();
    ctx.font = '23px "DejaVu Sans"';
    const tw = Math.max(...items.map(it => ctx.measureText(it[0]).width));
    const w = 81 + tw + 12, h = 81;
    const x0 = (a.left + a.right) / 2 - w / 2, y0 = a.top + 14;
    ctx.beginPath();
    ctx.roundRect(x0, y0, w, h, 5);
    ctx.fillStyle = 'rgba(255,255,255,0.8)';
    ctx.fill();
    ctx.strokeStyle = 'rgba(204,204,204,0.8)';
    ctx.lineWidth = 1.5;
    ctx.stroke();
    items.forEach((it, i) => {
      const y = y0 + 20 + i * 37.5;
      ctx.beginPath();
      ctx.moveTo(x0 + 10, y);
      ctx.lineTo(x0 + 63, y);
      ctx.strokeStyle = it[1];
      ctx.lineWidth = 2.6;
      ctx.stroke();
      ctx.fillStyle = '#000';
      ctx.textBaseline = 'middle';
      ctx.fillText(it[0], x0 + 82, y + 1);
    });
    ctx.restore();
  }
};

function makePanel(p) {
  new Chart(document.getElementById(p.id), {
    type: 'line',
    data: { datasets: [refLine(), ...p.series] },
    options: {
      responsive: false,
      animation: false,
      devicePixelRatio: 1,
      layout: { padding: p.pad },
      plugins: { legend: { display: false }, tooltip: { enabled: false }, boxLegend: { items: p.legend } },
      scales: {
        x: {
          type: 'linear', min: -9, max: 9,
          afterBuildTicks: s => { s.ticks = xTicks.map(v => ({ value: v })); },
          afterFit: s => { s.height = p.xLabels ? 50 : 0; },
          grid: { drawOnChartArea: false, drawTicks: p.xLabels, tickLength: 8, tickWidth: 2, tickColor: '#000' },
          border: { display: p.xLabels, color: '#000', width: 2 },
          ticks: { display: p.xLabels, font: tickFont, color: '#000', padding: 8, maxRotation: 0, callback: minus }
        },
        y: {
          type: 'linear', min: 0, max: p.yMax,
          afterBuildTicks: s => { s.ticks = p.yTicks.map(v => ({ value: v })); },
          afterFit: s => { s.width = 60; },
          grid: { drawOnChartArea: false, drawTicks: true, tickLength: 8, tickWidth: 2, tickColor: '#000' },
          border: { display: true, color: '#000', width: 2 },
          ticks: { display: p.yLabels, font: tickFont, color: '#000', padding: 11, callback: minus }
        }
      }
    },
    plugins: [framePlugin, legendPlugin]
  });
}

// --- PANELS --- //
makePanel({
  id: 'tl', pad: { left: 19, right: 577, top: 34, bottom: 367 }, yMax: 3, yTicks: yTicksTop,
  yLabels: true, xLabels: false, legend: [['O', '#ff0000'], ['H', '#0000ff']],
  series: [
    lineSet(hShort1, 'H', 'solid'), lineSet(oShort1, 'O', 'solid'),
    lineSet(hShort2, 'H', 'long'), lineSet(oShort2, 'O', 'long'),
    lineSet(hShort3, 'H', 'short'), lineSet(oShort3, 'O', 'short'),
    lineSet(hShort4, 'H', 'dot'), lineSet(oShort4, 'O', 'dot')
  ]
});
makePanel({
  id: 'tr', pad: { left: 588, right: 8, top: 34, bottom: 367 }, yMax: 3, yTicks: yTicksTop,
  yLabels: false, xLabels: false, legend: [['O', '#ff0000'], ['H', '#0000ff']],
  series: [
    lineSet(hLong1, 'H', 'solid'), lineSet(oLong1, 'O', 'solid'),
    lineSet(hLong2, 'H', 'long'), lineSet(oLong2, 'O', 'long'),
    lineSet(hLong3, 'H', 'dot'), lineSet(oLong3, 'O', 'dot')
  ]
});
makePanel({
  id: 'bl', pad: { left: 19, right: 577, top: 317, bottom: 34 }, yMax: 8.9, yTicks: yTicksBottom,
  yLabels: true, xLabels: true, legend: [['Na', '#bf00bf'], ['F', '#008000']],
  series: [
    lineSet(naShort1, 'Na', 'solid'), lineSet(fShort1, 'F', 'solid'),
    lineSet(naShort2, 'Na', 'long'), lineSet(fShort2, 'F', 'long'),
    lineSet(naShort3, 'Na', 'short'), lineSet(fShort3, 'F', 'short'),
    lineSet(fShort4, 'F', 'short'),
    lineSet(naShort4, 'Na', 'dot'), lineSet(fShort5, 'F', 'dot')
  ]
});
makePanel({
  id: 'br', pad: { left: 588, right: 8, top: 317, bottom: 34 }, yMax: 8.9, yTicks: yTicksBottom,
  yLabels: false, xLabels: true, legend: [['Na', '#bf00bf'], ['F', '#008000']],
  series: [
    lineSet(naLong1, 'Na', 'solid'), lineSet(fLong1, 'F', 'solid'),
    lineSet(naLong2, 'Na', 'long'), lineSet(fLong2, 'F', 'long'),
    lineSet(naLong3, 'Na', 'short'), lineSet(fLong3, 'F', 'short'),
    lineSet(fLong4, 'F', 'short'),
    lineSet(naLong4, 'Na', 'dot'), lineSet(fLong5, 'F', 'dot')
  ]
});
</script>
</body>
</html>
